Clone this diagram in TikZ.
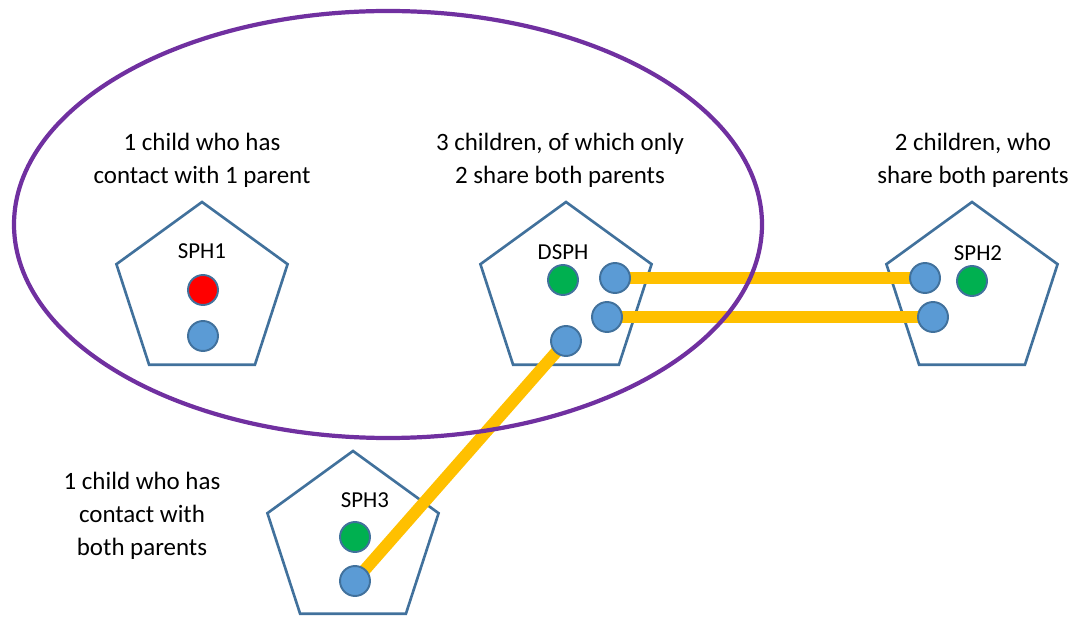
\documentclass[tikz,border=0pt]{standalone}
\usepackage{fontspec}
\setmainfont{Carlito}
\usepackage{xcolor}
\usetikzlibrary{shapes.geometric}

\definecolor{houseblue}{HTML}{41719C}
\definecolor{childblue}{HTML}{5B9BD5}
\definecolor{childgreen}{HTML}{00B050}
\definecolor{childred}{HTML}{FF0000}
\definecolor{linkyellow}{HTML}{FFC000}
\definecolor{groupviolet}{HTML}{7030A0}

\pgfdeclarelayer{background}
\pgfdeclarelayer{links}
\pgfsetlayers{background,links,main}

\begin{document}
\begin{tikzpicture}[x=0.02cm,y=-0.02cm]
		\tikzstyle{house}=[draw=houseblue, line width=1.5pt, regular polygon, regular polygon sides=5, minimum size=3.6cm, inner sep=0pt]
		\tikzstyle{child}=[circle, draw=houseblue, line width=1.1pt, minimum size=6mm, inner sep=0pt]
		\tikzstyle{child_blue}=[child, fill=childblue]
		\tikzstyle{child_green}=[child, fill=childgreen]
		\tikzstyle{child_red}=[child, fill=childred]
		\tikzstyle{house_text}=[font=\fontsize{13}{15}\selectfont]
		\tikzstyle{note}=[align=center, font=\fontsize{14.2}{18.8}\selectfont]
		\tikzstyle{link}=[draw=linkyellow, line width=6.8pt]

		\useasboundingbox (0,0) rectangle (1078,624);

		\begin{scope}[shift={(202,292)}]
			\begin{pgfonlayer}{background}
				\node [house] (sph1) {};
			\end{pgfonlayer}
			\node [house_text] (sph1-name) at (0,-41) {SPH1};
			\node [child_red] (C1-1) at (1,-2) {};
			\node [child_blue] (C1-2) at (1,44) {};
			\node [note] (sph1-note) at (0,-132) {1 child who has\\contact with 1 parent};
		\end{scope}

		\begin{scope}[shift={(566,292)}]
			\begin{pgfonlayer}{background}
				\node [house] (dsph) {};
			\end{pgfonlayer}
			\node [house_text] (dsph-name) at (-3,-40) {DSPH};
			\node [child_green] (D-1) at (-3,-12) {};
			\node [child_blue] (D-2) at (49,-14) {};
			\node [child_blue] (D-3) at (41,25) {};
			\node [child_blue] (D-4) at (0,49) {};
			\node [note] (dsph-note) at (-6,-132) {3 children, of which only\\2 share both parents};
		\end{scope}

		\begin{scope}[shift={(972,292)}]
			\begin{pgfonlayer}{background}
				\node [house] (sph2) {};
			\end{pgfonlayer}
			\node [house_text] (sph2-name) at (6,-39) {SPH2};
			\node [child_blue] (C2-1) at (-47,-14) {};
			\node [child_green] (C2-2) at (0,-11) {};
			\node [child_blue] (C2-3) at (-39,25) {};
			\node [note] (sph2-note) at (1,-132) {2 children, who\\share both parents};
		\end{scope}

		\begin{scope}[shift={(353,541)}]
			\begin{pgfonlayer}{background}
				\node [house] (sph3) {};
			\end{pgfonlayer}
			\node [house_text] (sph3-name) at (12,-41) {SPH3};
			\node [child_green] (C3-1) at (2,-4) {};
			\node [child_blue] (C3-2) at (2,40) {};
			\node [note] (sph3-note) at (-211,-25) {1 child who has\\contact with\\both parents};
		\end{scope}

		\begin{pgfonlayer}{links}
			\draw [link] (D-2.center) -- (C2-1.center);
			\draw [link] (D-3.center) -- (C2-3.center);
			\draw [link] (D-4.center) -- (C3-2.center);
		\end{pgfonlayer}

		\draw [draw=groupviolet, line width=2.4pt] (388,224.5) ellipse [x radius=374, y radius=213.5];
	\end{tikzpicture}
\end{document}
